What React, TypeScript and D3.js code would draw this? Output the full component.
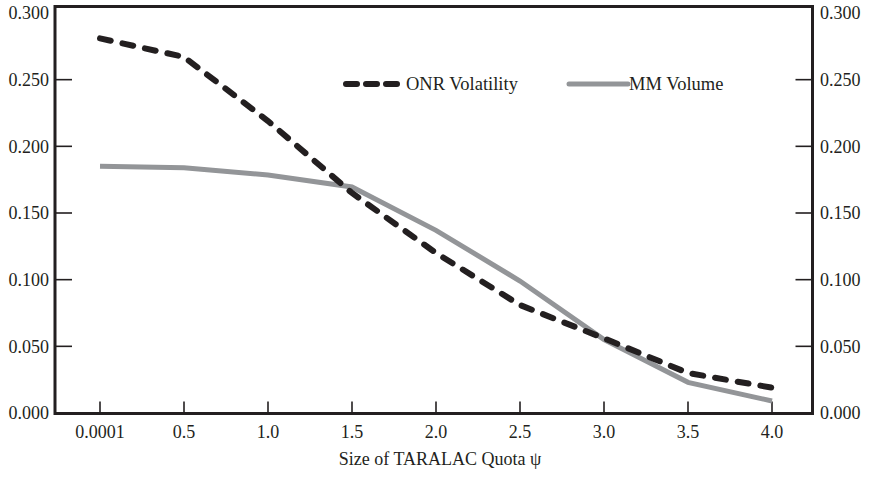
import React from "react";
import * as d3 from "d3";

const quotaLabels = ["0.0001", "0.5", "1.0", "1.5", "2.0", "2.5", "3.0", "3.5", "4.0"];
const onrVolatility = [0.281, 0.267, 0.219, 0.165, 0.12, 0.081, 0.056, 0.030, 0.019];
const mmVolume = [0.185, 0.184, 0.1785, 0.1695, 0.137, 0.099, 0.055, 0.023, 0.009];
const yTicks = [0, 0.05, 0.1, 0.15, 0.2, 0.25, 0.3];

const W = 869;
const H = 482;
const FONT = "'Liberation Serif', 'Times New Roman', serif";
const frame = { left: 55, right: 812.5, top: 6.5, bottom: 413.5 };
const DARK = "#231f20";
const GREY = "#939598";

export default function App() {
  const x = d3.scaleLinear().domain([0, quotaLabels.length - 1]).range([100, 772]);
  const y = d3.scaleLinear().domain([0, 0.3]).range([413, 13]);
  const fmt = d3.format(".3f");

  const line = d3
    .line<number>()
    .x((_, i) => x(i))
    .y((d) => y(d));

  return (
    <svg width={W} height={H} style={{ position: "absolute", left: 0, top: 0, background: "#fff" }}>
      <g fontFamily={FONT} fill={DARK}>
        {/* frame */}
        <rect
          x={frame.left}
          y={frame.top}
          width={frame.right - frame.left}
          height={frame.bottom - frame.top}
          fill="none"
          stroke={DARK}
          strokeWidth={3}
        />
        {/* y ticks, left and right */}
        {yTicks.map((t) => (
          <g key={t}>
            {t > 0 && t < 0.3 && (
              <>
                <line x1={frame.left} x2={frame.left + 17} y1={y(t)} y2={y(t)} stroke={DARK} strokeWidth={1.6} />
                <line x1={frame.right - 17} x2={frame.right} y1={y(t)} y2={y(t)} stroke={DARK} strokeWidth={1.6} />
              </>
            )}
            <text x={49} y={y(t)} dy="0.35em" textAnchor="end" fontSize={18}>
              {fmt(t)}
            </text>
            <text x={820} y={y(t)} dy="0.35em" textAnchor="start" fontSize={18}>
              {fmt(t)}
            </text>
          </g>
        ))}
        {/* x ticks */}
        {quotaLabels.map((lab, i) => (
          <g key={lab}>
            <line x1={x(i)} x2={x(i)} y1={frame.bottom - 12} y2={frame.bottom} stroke={DARK} strokeWidth={1.6} />
            <text x={x(i)} y={438} textAnchor="middle" fontSize={18}>
              {lab}
            </text>
          </g>
        ))}
        <text x={440} y={465} textAnchor="middle" fontSize={18}>
          Size of TARALAC Quota ψ
        </text>

        {/* series */}
        <path d={line(mmVolume) ?? ""} fill="none" stroke={GREY} strokeWidth={5} />
        <path
          d={line(onrVolatility) ?? ""}
          fill="none"
          stroke={DARK}
          strokeWidth={6}
          strokeDasharray="11 12"
          strokeLinecap="round"
        />

        {/* legend */}
        <line x1={346} x2={400} y1={84} y2={84} stroke={DARK} strokeWidth={6} strokeDasharray="11 9" strokeLinecap="round" />
        <text x={406} y={84} dy="0.35em" fontSize={18.5}>
          ONR Volatility
        </text>
        <line x1={569} x2={628} y1={84} y2={84} stroke={GREY} strokeWidth={5} strokeLinecap="round" />
        <text x={629} y={84} dy="0.35em" fontSize={18.5}>
          MM Volume
        </text>
      </g>
    </svg>
  );
}
